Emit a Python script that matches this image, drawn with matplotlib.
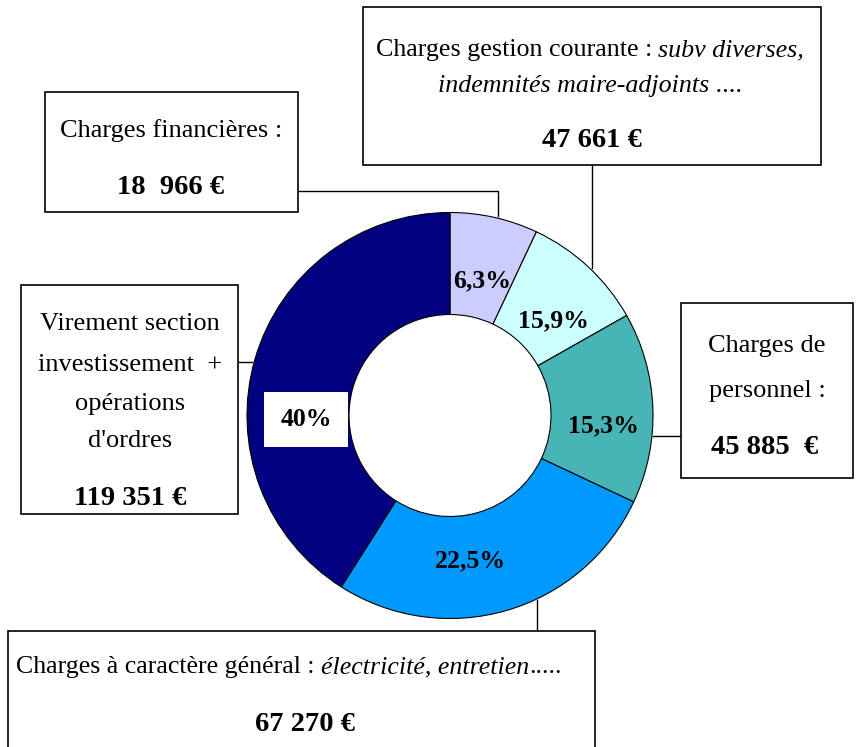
import matplotlib
matplotlib.use("Agg")
import matplotlib.pyplot as plt
from matplotlib.patches import Rectangle

# budget data (euros), clockwise from the top
categories = ["Charges financières", "Charges gestion courante", "Charges de personnel",
              "Charges à caractère général", "Virement section investissement"]
amounts = [18966, 47661, 45885, 67270, 119351]
# the ring in the picture is not drawn from the amounts: shares
slice_shares = [7.0, 9.8, 15.2, 27.0, 41.0]
pct_labels = ["6,3%", "15,9%", "15,3%", "22,5%", "40%"]
amount_labels = ["18  966 €", "47 661 €", "45 885  €", "67 270 €", "119 351 €"]
colors = ["#CCCCFF", "#CCFFFF", "#47B5B5", "#0099FF", "#000080"]

W, H = 856, 747
FONT = "Liberation Serif"

fig = plt.figure(figsize=(W / 100, H / 100), dpi=100)
ax = fig.add_axes([0, 0, 1, 1])

def Y(y):
    # pixel row (from top) -> data y
    return H - y

cx, cy, R = 450, 415.5, 203
ax.pie(slice_shares, colors=colors, startangle=90, counterclock=False,
       center=(cx, Y(cy)), radius=R,
       wedgeprops=dict(width=R - 101, edgecolor="black", linewidth=0.8))
ax.set_xlim(0, W)
ax.set_ylim(0, H)
ax.set_aspect("equal")
ax.axis("off")

renderer = fig.canvas.get_renderer()

def line_of_text(xc, y, parts, size=19):
    # parts: list of (text, style, weight); whole line centered on xc
    texts = []
    for s, style, weight in parts:
        t = ax.text(0, Y(y), s, fontsize=size, family=FONT, style=style,
                    weight=weight, va="baseline", ha="left")
        texts.append(t)
    widths = [t.get_window_extent(renderer).width for t in texts]
    x = xc - sum(widths) / 2
    for t, w in zip(texts, widths):
        t.set_x(x)
        x += w

def box(x0, y0, x1, y1):
    ax.add_patch(Rectangle((x0, Y(y1)), x1 - x0, y1 - y0, facecolor="white",
                           edgecolor="black", linewidth=1.2, zorder=3))

def connector(xs, ys):
    ax.plot(xs, [Y(v) for v in ys], color="black", linewidth=1, zorder=2)

N = ("normal", "normal")
I = ("italic", "normal")

# Charges financières
connector([298, 498, 498], [191, 191, 216])
box(45, 92, 298, 212)
line_of_text(171, 137, [("Charges financières :",) + N])
line_of_text(171, 194, [(amount_labels[0], "normal", "bold")], size=20.5)

# Charges gestion courante
connector([592, 592], [165, 268])
box(363, 7, 821, 165)
line_of_text(590, 56, [("Charges gestion courante : ",) + N, ("subv diverses,",) + I], size=18.7)
line_of_text(590, 92, [("indemnités maire-adjoints",) + I, (" ....",) + N], size=18.7)
line_of_text(592, 147, [(amount_labels[1], "normal", "bold")], size=20.5)

# Charges de personnel
connector([653, 681], [436, 436])
box(681, 303, 853, 478)
line_of_text(767, 352, [("Charges de",) + N])
line_of_text(767, 397, [("personnel :",) + N])
line_of_text(765, 454, [(amount_labels[2], "normal", "bold")], size=20.5)

# Charges à caractère général
connector([537, 537], [600, 631])
box(8, 631, 595, 760)
line_of_text(289, 673, [("Charges à caractère général : ",) + N, ("électricité, entretien",) + I, (".....",) + N], size=18.6)
line_of_text(305, 731, [(amount_labels[3], "normal", "bold")], size=20.5)

# Virement section investissement
connector([238, 252], [362, 362])
box(21, 285, 238, 514)
line_of_text(130, 330, [("Virement section",) + N])
line_of_text(130, 371, [("investissement  +",) + N])
line_of_text(130, 410, [("opérations",) + N])
line_of_text(130, 447, [("d'ordres",) + N])
line_of_text(130, 505, [(amount_labels[4], "normal", "bold")], size=20.5)

# percentage labels inside the ring
pct_pos = [(482, 287), (553, 327), (603, 432), (470, 567), (306, 426)]
for lab, (px, py) in zip(pct_labels, pct_pos):
    kw = {}
    if lab == "40%":
        kw["bbox"] = dict(facecolor="white", edgecolor="none", boxstyle="square,pad=0.62")
    ax.text(px, Y(py), lab, fontsize=18.5, family=FONT, weight="bold",
            ha="center", va="baseline", zorder=4, **kw)

fig.savefig("out.png", dpi=100)
